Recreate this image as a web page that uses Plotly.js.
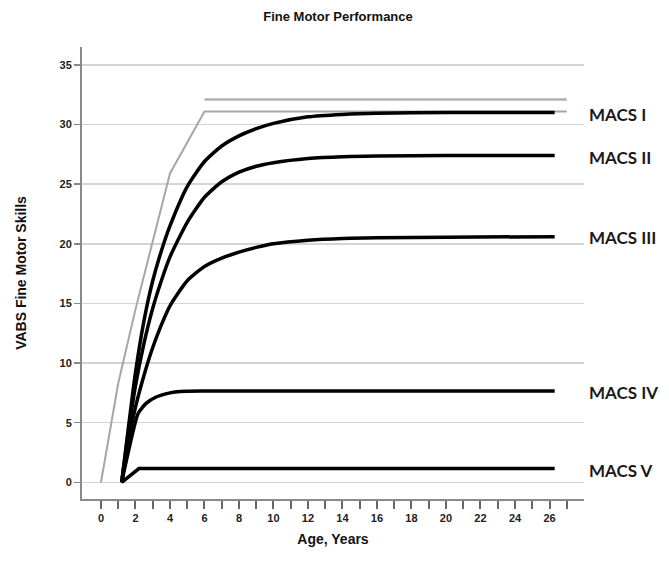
<!DOCTYPE html>
<html><head><meta charset="utf-8">
<script src="https://cdn.plot.ly/plotly-3.0.1.min.js"></script>
<style>html,body{margin:0;padding:0;background:#fff}#chart{width:669px;height:564px}</style>
</head><body><div id="chart"></div>
<script>
// Reference (gray) growth line and ceiling line
const refAge = [0, 1, 2, 3, 4, 6, 27];
const refScore = [0, 8.3, 14.5, 20.1, 25.9, 31.1, 31.1];
const ceilAge = [6, 27];
const ceilScore = [32.1, 32.1];

// MACS curves
const curveAge = [1.2, 1.6, 2, 2.5, 3, 3.5, 4, 5, 6, 7, 8, 9, 10, 12, 14, 16, 20, 26.3];
const macsI   = [0, 4.7, 9.2, 13.6, 16.9, 19.4, 21.5, 24.8, 26.9, 28.2, 29.05, 29.65, 30.1, 30.65, 30.85, 30.95, 31.0, 31.0];
const macsII  = [0, 4.3, 8.1, 11.7, 14.6, 16.9, 18.9, 21.8, 23.9, 25.2, 26.0, 26.5, 26.8, 27.15, 27.3, 27.35, 27.4, 27.4];
const macsIII = [0, 3.5, 6.3, 9.0, 11.3, 13.2, 14.8, 16.9, 18.1, 18.8, 19.3, 19.7, 20.0, 20.3, 20.45, 20.5, 20.55, 20.6];
const ageIV   = [1.2, 2.15, 2.6, 3.2, 4, 4.6, 6, 10, 15, 20, 26.3];
const macsIV  = [0, 5.76, 6.6, 7.15, 7.5, 7.62, 7.65, 7.65, 7.65, 7.65, 7.65];
const ageV    = [1.2, 2.2, 26.3];
const macsV   = [0, 1.15, 1.15];

const labels = ['MACS I', 'MACS II', 'MACS III', 'MACS IV', 'MACS V'];
const labelY = [30.8, 27.2, 20.5, 7.5, 1.0];

const xTickVals = [];
const xTickText = [];
for (let i = 0; i <= 27; i++) { xTickVals.push(i); xTickText.push(i % 2 === 0 && i <= 26 ? String(i) : ''); }
const yTickVals = [0, 5, 10, 15, 20, 25, 30, 35];

const black = {color: '#000', width: 3.5, shape: 'spline', smoothing: 0.6};
const traces = [
  {x: refAge, y: refScore, mode: 'lines', line: {color: '#a6a6a6', width: 2}, hoverinfo: 'skip'},
  {x: ceilAge, y: ceilScore, mode: 'lines', line: {color: '#b0b0b0', width: 2.5}, hoverinfo: 'skip'},
  {x: curveAge, y: macsI, mode: 'lines', line: black},
  {x: curveAge, y: macsII, mode: 'lines', line: black},
  {x: curveAge, y: macsIII, mode: 'lines', line: black},
  {x: ageIV, y: macsIV, mode: 'lines', line: {color: '#000', width: 3.5, shape: 'spline', smoothing: 0.5}},
  {x: ageV, y: macsV, mode: 'lines', line: {color: '#000', width: 3.5}}
];

const tickFont = {family: 'Liberation Sans, Arial, sans-serif', size: 11, color: '#222', weight: 'bold'};
const titleFont = {family: 'Liberation Sans, Arial, sans-serif', size: 14, color: '#111', weight: 'bold'};
const layout = {
  width: 669, height: 564,
  margin: {l: 82, r: 85, t: 47, b: 65},
  paper_bgcolor: '#fff', plot_bgcolor: '#fff',
  showlegend: false,
  title: {text: 'Fine Motor Performance', x: 0.51, xref: 'paper', y: 0.97, yref: 'container', yanchor: 'middle',
          font: {family: 'Liberation Sans, Arial, sans-serif', size: 13, color: '#111', weight: 'bold'}},
  xaxis: {
    range: [-1.1, 28], tickmode: 'array', tickvals: xTickVals, ticktext: xTickText,
    showgrid: false, zeroline: false, showline: true, linecolor: '#8a8a8a', linewidth: 2,
    ticks: 'outside', ticklen: 8, tickwidth: 2, tickcolor: '#666',
    tickfont: tickFont,
    title: {text: 'Age, Years', standoff: 11, font: titleFont}
  },
  yaxis: {
    range: [-1.4, 36.5], tickmode: 'array', tickvals: yTickVals,
    showgrid: true, gridcolor: '#d4d4d4', gridwidth: 1.5, zeroline: false,
    showline: true, linecolor: '#8a8a8a', linewidth: 2,
    ticks: 'outside', ticklen: 6, tickwidth: 1.5, tickcolor: '#888',
    tickfont: tickFont,
    title: {text: 'VABS Fine Motor Skills', standoff: 30, font: titleFont}
  },
  annotations: labels.map((t, i) => ({
    text: t, x: 1.005, xref: 'paper', y: labelY[i], yref: 'y', xanchor: 'left', yanchor: 'middle',
    showarrow: false, font: {family: 'Lato, sans-serif', size: 17, color: '#1a1a1a', weight: 700}
  }))
};
Plotly.newPlot('chart', traces, layout, {displayModeBar: false, staticPlot: true});
</script>
</body></html>
